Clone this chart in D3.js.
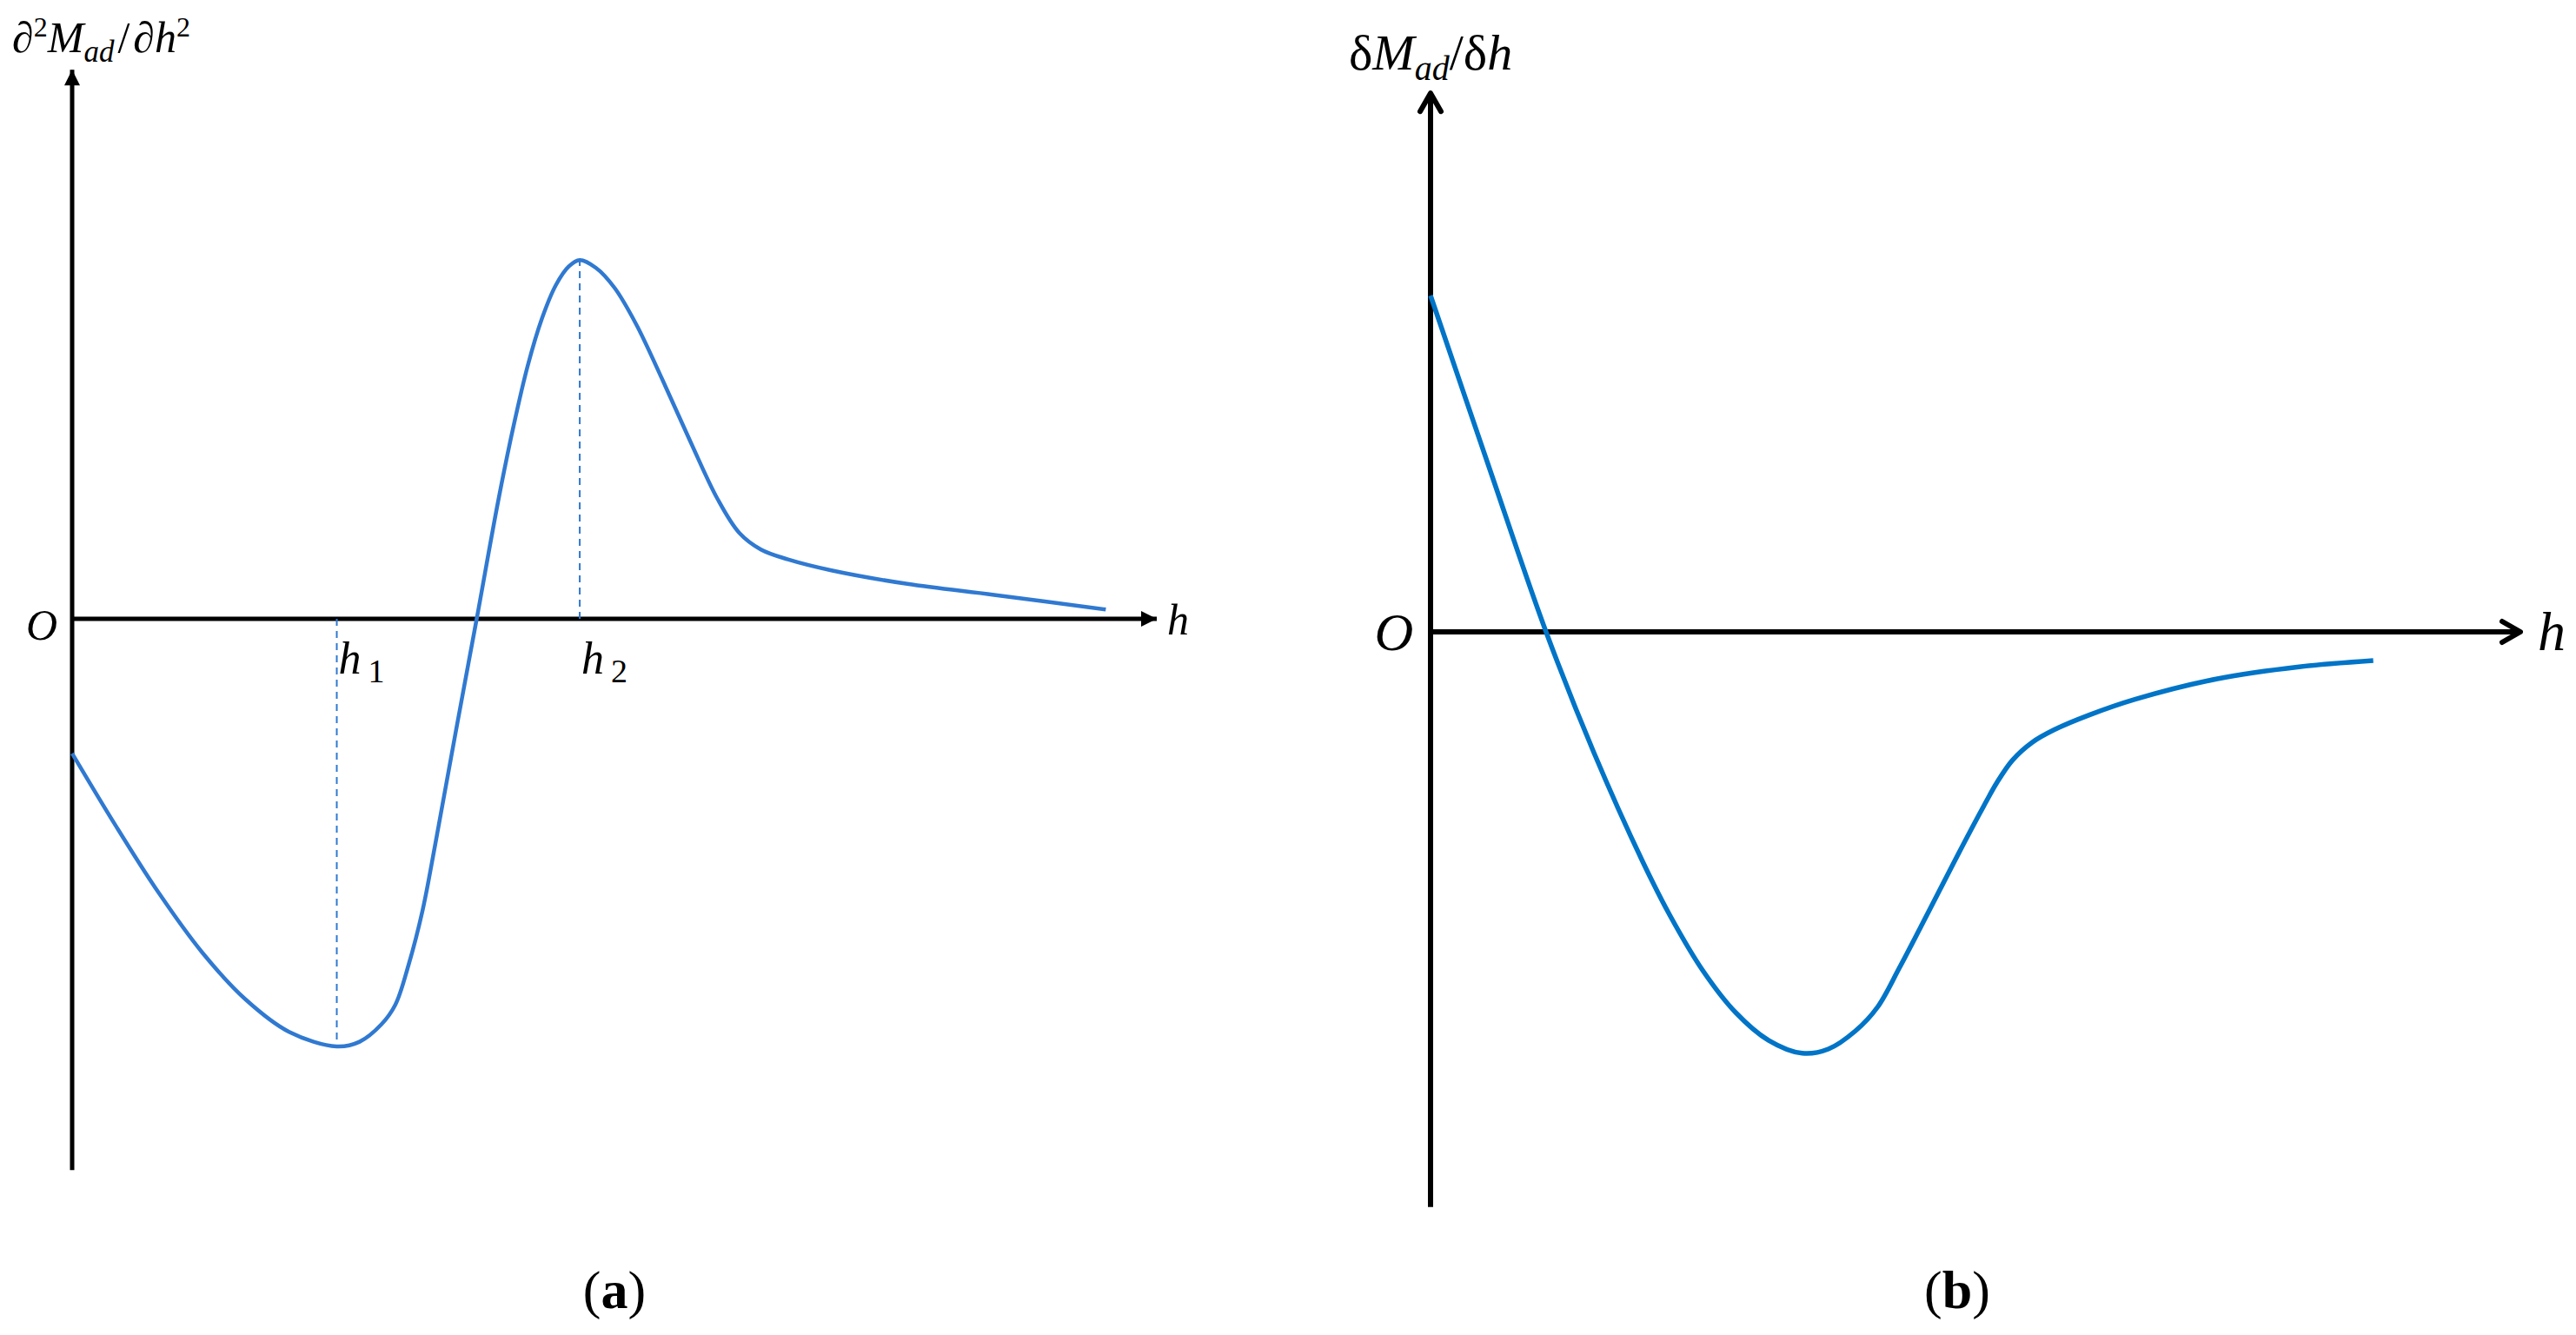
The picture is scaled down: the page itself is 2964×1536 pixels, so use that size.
<!DOCTYPE html>
<html>
<head>
<meta charset="utf-8">
<script src="https://cdn.jsdelivr.net/npm/d3@7"></script>
<style>
    body { margin: 0; background: #fff; }
    text { font-family: "Liberation Serif", "Times New Roman", serif; fill: #000; }
</style>
</head>
<body>
<svg></svg>
<script>
// panel (a): second derivative, h in arbitrary units, value in arbitrary units
var hA = [0, 4, 8, 12, 16, 20, 24.4, 26.5, 28.5, 29.8, 31, 32.3, 33.5, 35.4, 37.3, 39.3, 40.7,
    42.0, 43.3, 44.6, 45.8, 46.8, 48.3, 50, 52, 54.5, 57, 59.5, 61.5, 63.5, 66, 70, 77, 85, 95.3];
var vA = [-25.8, -39.6, -52.6, -64.0, -73.0, -79.2, -82.0, -81.1, -77.8, -74.0, -66.5, -56, -43, -21.3, 0, 22.8, 37,
    48.5, 57.5, 64, 67.6, 68.8, 67.3, 63.5, 56.5, 45.5, 34, 23, 16.5, 13.3, 11.4, 9.3, 6.7, 4.6, 1.8];

// marked points h1 (minimum) and h2 (maximum)
var markA = [
    { name: "1", h: 24.4, v: -82.0 },
    { name: "2", h: 46.8, v: 68.8 }
];

// panel (b): first derivative
var hB = [0, 5.3, 10.6, 15.0, 19.5, 22, 25, 28, 31, 34.1, 36.5, 39, 41, 43, 45, 46.6, 48.5, 50.4, 52,
    53.4, 55.2, 57.2, 60.5, 64.7, 72.2, 79.7, 86.5];
var vB = [64.5, 32, 0, -23.2, -44.2, -54.5, -65, -73, -78.3, -80.8, -80, -76.5, -72, -64.5, -56.5, -50, -42.3, -34.8, -28.8,
    -24.6, -21.2, -18.8, -15.9, -12.9, -9, -6.7, -5.5];

var svgWidth = 2964;
var svgHeight = 1536;

var blueA = "#3079d1";
var blueB = "#0074c7";

var svg = d3.select("svg")
    .attr("width", svgWidth)
    .attr("height", svgHeight);

var defs = svg.append("defs");

// filled arrow head for panel (a)
defs.append("marker")
    .attr("id", "arrowA")
    .attr("viewBox", "0 0 10 10")
    .attr("refX", 10)
    .attr("refY", 5)
    .attr("markerUnits", "userSpaceOnUse")
    .attr("markerWidth", 22)
    .attr("markerHeight", 18)
    .attr("orient", "auto")
    .append("path")
    .attr("d", "M0,0 L10,5 L0,10 Z")
    .attr("fill", "#000");

// open arrow head for panel (b)
defs.append("marker")
    .attr("id", "arrowB")
    .attr("viewBox", "0 0 32 32")
    .attr("refX", 29)
    .attr("refY", 16)
    .attr("markerUnits", "userSpaceOnUse")
    .attr("markerWidth", 32)
    .attr("markerHeight", 32)
    .attr("orient", "auto")
    .append("path")
    .attr("d", "M8,4 L29,16 L8,28")
    .attr("fill", "none")
    .attr("stroke", "#000")
    .attr("stroke-width", 6)
    .attr("stroke-linecap", "round")
    .attr("stroke-linejoin", "round");

// ---------- panel (a) ----------
var xA = d3.scaleLinear().domain([0, 100]).range([83, 1331]);
var yA = d3.scaleLinear().domain([-100, 100]).range([1312, 112]);

var gA = svg.append("g");

gA.append("line")
    .attr("x1", xA(0)).attr("x2", xA(0))
    .attr("y1", yA(-105.7)).attr("y2", yA(105.3))
    .attr("stroke", "#000")
    .attr("stroke-width", 5)
    .attr("marker-end", "url(#arrowA)");

gA.append("line")
    .attr("x1", xA(0)).attr("x2", xA(100))
    .attr("y1", yA(0)).attr("y2", yA(0))
    .attr("stroke", "#000")
    .attr("stroke-width", 5)
    .attr("marker-end", "url(#arrowA)");

gA.selectAll(".drop")
    .data(markA)
    .enter().append("line")
    .attr("class", "drop")
    .attr("x1", function (d) { return xA(d.h); })
    .attr("x2", function (d) { return xA(d.h); })
    .attr("y1", yA(0))
    .attr("y2", function (d) { return yA(d.v); })
    .attr("stroke", blueA)
    .attr("stroke-width", 2)
    .attr("stroke-dasharray", "8,6");

var lineA = d3.line()
    .x(function (d, i) { return xA(hA[i]); })
    .y(function (d) { return yA(d); })
    .curve(d3.curveCatmullRom.alpha(0.5));

gA.append("path")
    .attr("d", lineA(vA))
    .attr("fill", "none")
    .attr("stroke", blueA)
    .attr("stroke-width", 4.5);

// tick labels h1, h2
var labA = gA.selectAll(".hlab")
    .data(markA)
    .enter().append("text")
    .attr("class", "hlab")
    .attr("x", function (d) { return xA(d.h) + 2; })
    .attr("y", 775)
    .attr("font-size", 52);
labA.append("tspan").attr("font-style", "italic").text("h");
labA.append("tspan").attr("dx", 8).attr("dy", 10).attr("font-size", 38).text(function (d) { return d.name; });

gA.append("text")
    .attr("x", 48).attr("y", 736)
    .attr("text-anchor", "middle")
    .attr("font-size", 50)
    .attr("font-style", "italic")
    .text("O");

gA.append("text")
    .attr("x", 1343).attr("y", 730)
    .attr("font-size", 50)
    .attr("font-style", "italic")
    .text("h");

var titleA = gA.append("text")
    .attr("x", 14).attr("y", 60)
    .attr("font-size", 50)
    .attr("font-style", "italic");
titleA.append("tspan").text("\u2202");
titleA.append("tspan").attr("dy", -18).attr("font-size", 32).attr("font-style", "normal").text("2");
titleA.append("tspan").attr("dy", 18).text("M");
titleA.append("tspan").attr("dy", 11).attr("font-size", 35).text("ad");
titleA.append("tspan").attr("dy", -11).attr("dx", 4).attr("font-style", "normal").text("/");
titleA.append("tspan").attr("dx", 4).text("\u2202h");
titleA.append("tspan").attr("dy", -18).attr("font-size", 32).attr("font-style", "normal").text("2");

gA.append("text")
    .attr("x", xA(50)).attr("y", 1505)
    .attr("text-anchor", "middle")
    .attr("font-size", 62)
    .html("(<tspan font-weight='bold'>a</tspan>)");

// ---------- panel (b) ----------
var xB = d3.scaleLinear().domain([0, 100]).range([1646, 2900]);
var yB = d3.scaleLinear().domain([-100, 100]).range([1327, 127]);

var gB = svg.append("g");

gB.append("line")
    .attr("x1", xB(0)).attr("x2", xB(0))
    .attr("y1", yB(-110.3)).attr("y2", yB(103.3))
    .attr("stroke", "#000")
    .attr("stroke-width", 6)
    .attr("marker-end", "url(#arrowB)");

gB.append("line")
    .attr("x1", xB(0)).attr("x2", xB(100))
    .attr("y1", yB(0)).attr("y2", yB(0))
    .attr("stroke", "#000")
    .attr("stroke-width", 6)
    .attr("marker-end", "url(#arrowB)");

var lineB = d3.line()
    .x(function (d, i) { return xB(hB[i]); })
    .y(function (d) { return yB(d); })
    .curve(d3.curveCatmullRom.alpha(0.5));

gB.append("path")
    .attr("d", lineB(vB))
    .attr("fill", "none")
    .attr("stroke", blueB)
    .attr("stroke-width", 5.5);

gB.append("text")
    .attr("x", 1604).attr("y", 748)
    .attr("text-anchor", "middle")
    .attr("font-size", 62)
    .attr("font-style", "italic")
    .text("O");

gB.append("text")
    .attr("x", 2920).attr("y", 748)
    .attr("font-size", 64)
    .attr("font-style", "italic")
    .text("h");

var titleB = gB.append("text")
    .attr("x", 1552).attr("y", 80)
    .attr("font-size", 58);
titleB.append("tspan").text("\u03b4");
titleB.append("tspan").attr("font-style", "italic").text("M");
titleB.append("tspan").attr("dy", 12).attr("font-size", 40).attr("font-style", "italic").text("ad");
titleB.append("tspan").attr("dy", -12).text("/\u03b4");
titleB.append("tspan").attr("font-style", "italic").text("h");

gB.append("text")
    .attr("x", 2252).attr("y", 1505)
    .attr("text-anchor", "middle")
    .attr("font-size", 62)
    .html("(<tspan font-weight='bold'>b</tspan>)");
</script>
</body>
</html>
